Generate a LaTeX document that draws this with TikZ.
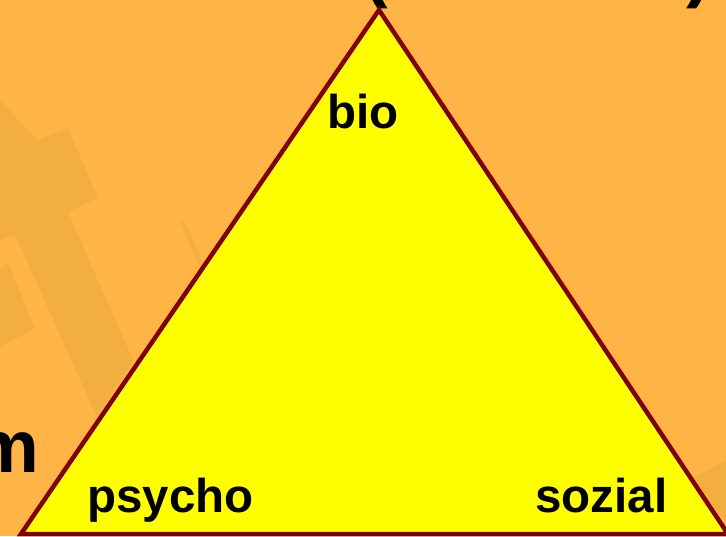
\documentclass[tikz,border=0pt]{standalone}
\usepackage{fontspec}
\setmainfont{Liberation Sans}
\begin{document}
\begin{tikzpicture}[x=1pt,y=-1pt,
  lbl/.style={font=\bfseries\fontsize{47.5}{52}\selectfont,inner sep=0pt,text=black},
  big/.style={font=\bfseries\fontsize{74}{80}\selectfont,inner sep=0pt,text=black},
  ghost/.style={fill=ghostc,draw=none}]
\definecolor{bgc}{HTML}{FFB546}
\definecolor{ghostc}{HTML}{F3AE42}
\definecolor{edgec}{HTML}{800010}
\definecolor{triy}{HTML}{FFFF00}
\useasboundingbox (0,0) rectangle (726,536);
\fill[bgc] (0,0) rectangle (726,536);
% faint watermark shapes
\fill[ghost] (0,100) -- (37,140) -- (68,128) -- (98,198) -- (68,212) -- (133,360) -- (97,417) -- (15,235) -- (0,240) -- cycle;
\fill[ghost] (0,270) -- (8,263) -- (35,328) -- (0,347) -- cycle;
\fill[ghost] (180,222) -- (184,220) -- (204,265) -- (200,268) -- cycle;
\fill[ghost] (690,480) -- (726,460) -- (726,520) -- cycle;
% partial texts at edges
\node[big,anchor=base east] (m) at (39,472) {m};
\node[big,anchor=base] (lp) at (376,-7) {(};
\node[big,anchor=base] (rp) at (699,-7) {)};
% triangle
\coordinate (top) at (379,10);
\coordinate (bl) at (21,534);
\coordinate (br) at (728,534);
\filldraw[fill=triy,draw=edgec,line width=4.5pt,line join=miter] (top) -- (br) -- (bl) -- cycle;
\node[lbl,anchor=base] (bio) at (363,128) {bio};
\node[lbl,anchor=base west] (psycho) at (87,512) {psycho};
\node[lbl,anchor=base west] (sozial) at (535,512) {sozial};
\end{tikzpicture}
\end{document}
